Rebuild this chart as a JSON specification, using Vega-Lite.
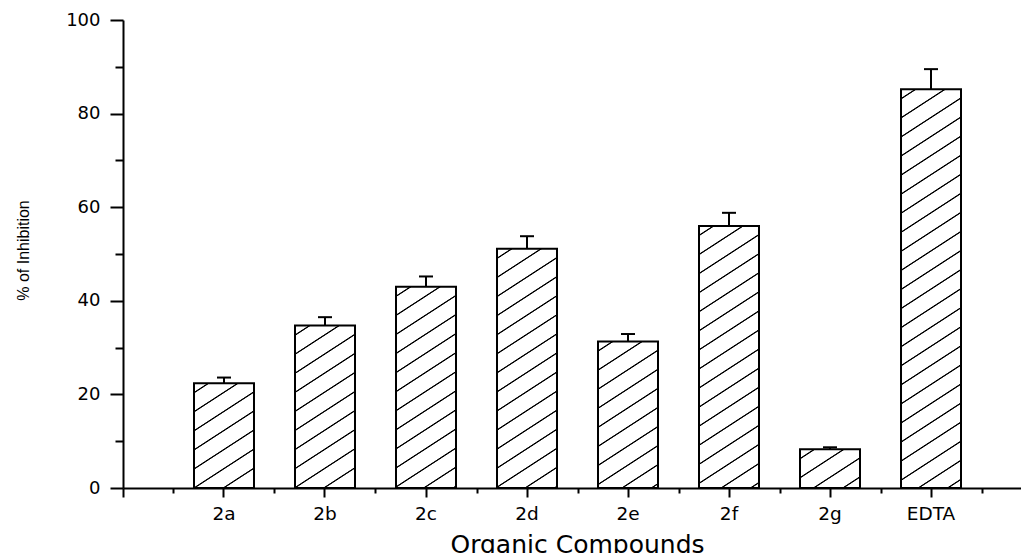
{
  "$schema": "https://vega.github.io/schema/vega-lite/v6.json",
  "width": 898,
  "height": 468,
  "autosize": {"type": "none"},
  "padding": {"left": 123, "top": 20, "right": 0, "bottom": 65},
  "background": "white",
  "config": {
    "view": {"stroke": null},
    "axis": {"grid": false, "domainColor": "#000", "domainWidth": 2, "tickColor": "#000", "tickWidth": 2, "labelColor": "#000", "labelFont": "DejaVu Sans", "labelFontSize": 18, "titleColor": "#000", "titleFontWeight": "normal"}
  },
  "data": {
    "values": [
      {"compound": "2a", "value": 22.4, "upper": 23.6},
      {"compound": "2b", "value": 34.7, "upper": 36.5},
      {"compound": "2c", "value": 43.0, "upper": 45.2},
      {"compound": "2d", "value": 51.1, "upper": 53.8},
      {"compound": "2e", "value": 31.3, "upper": 32.9},
      {"compound": "2f", "value": 56.0, "upper": 58.8},
      {"compound": "2g", "value": 8.3, "upper": 8.7},
      {"compound": "EDTA", "value": 85.2, "upper": 89.5}
    ]
  },
  "layer": [
    {
      "mark": {"type": "bar", "stroke": "#000", "strokeWidth": 2},
      "encoding": {
        "x": {"field": "compound", "type": "nominal", "sort": null,
          "scale": {"paddingInner": 0.406, "paddingOuter": 0.6485, "align": 0.542},
          "axis": {"orient": "bottom", "title": "Organic Compounds", "titleFont": "DejaVu Sans", "titleFontSize": 25, "titleX": 454, "titleY": 44, "titleBaseline": "top", "titleAlign": "center", "tickSize": 9, "labelPadding": 7, "labelAngle": 0, "labelFontSize": 18.5}},
        "y": {"field": "value", "type": "quantitative", "scale": {"domain": [0, 100], "nice": false},
          "axis": {"orient": "left", "values": [0, 20, 40, 60, 80, 100], "tickSize": 13, "labelPadding": 10, "title": "% of Inhibition", "titleFont": "Liberation Sans", "titleFontSize": 16, "titleX": -100, "titleY": 230, "titleAngle": -90, "titleBaseline": "middle", "titleAlign": "center"}},
        "fill": {
          "condition": [
            {"test": "datum.compound === '2a'", "value": {"gradient": "linear", "x1": 0, "y1": 0, "x2": 1.4856, "y2": 3.9956, "stops": [
              {"offset":0.0175,"color":"#fff"},{"offset":0.0192,"color":"#000"},{"offset":0.0208,"color":"#000"},{"offset":0.0225,"color":"#fff"},
              {"offset":0.0575,"color":"#fff"},{"offset":0.0592,"color":"#000"},{"offset":0.0608,"color":"#000"},{"offset":0.0625,"color":"#fff"},
              {"offset":0.0975,"color":"#fff"},{"offset":0.0992,"color":"#000"},{"offset":0.1008,"color":"#000"},{"offset":0.1025,"color":"#fff"},
              {"offset":0.1375,"color":"#fff"},{"offset":0.1392,"color":"#000"},{"offset":0.1408,"color":"#000"},{"offset":0.1425,"color":"#fff"},
              {"offset":0.1775,"color":"#fff"},{"offset":0.1792,"color":"#000"},{"offset":0.1808,"color":"#000"},{"offset":0.1825,"color":"#fff"},
              {"offset":0.2175,"color":"#fff"},{"offset":0.2192,"color":"#000"},{"offset":0.2208,"color":"#000"},{"offset":0.2225,"color":"#fff"},
              {"offset":0.2575,"color":"#fff"},{"offset":0.2592,"color":"#000"},{"offset":0.2608,"color":"#000"},{"offset":0.2625,"color":"#fff"},
              {"offset":0.2975,"color":"#fff"},{"offset":0.2992,"color":"#000"},{"offset":0.3008,"color":"#000"},{"offset":0.3025,"color":"#fff"}
            ]}},
            {"test": "datum.compound === '2b'", "value": {"gradient": "linear", "x1": 0, "y1": 0, "x2": 0.6662, "y2": 2.7758, "stops": [
              {"offset":0.0175,"color":"#fff"},{"offset":0.0192,"color":"#000"},{"offset":0.0208,"color":"#000"},{"offset":0.0225,"color":"#fff"},
              {"offset":0.0575,"color":"#fff"},{"offset":0.0592,"color":"#000"},{"offset":0.0608,"color":"#000"},{"offset":0.0625,"color":"#fff"},
              {"offset":0.0975,"color":"#fff"},{"offset":0.0992,"color":"#000"},{"offset":0.1008,"color":"#000"},{"offset":0.1025,"color":"#fff"},
              {"offset":0.1375,"color":"#fff"},{"offset":0.1392,"color":"#000"},{"offset":0.1408,"color":"#000"},{"offset":0.1425,"color":"#fff"},
              {"offset":0.1775,"color":"#fff"},{"offset":0.1792,"color":"#000"},{"offset":0.1808,"color":"#000"},{"offset":0.1825,"color":"#fff"},
              {"offset":0.2175,"color":"#fff"},{"offset":0.2192,"color":"#000"},{"offset":0.2208,"color":"#000"},{"offset":0.2225,"color":"#fff"},
              {"offset":0.2575,"color":"#fff"},{"offset":0.2592,"color":"#000"},{"offset":0.2608,"color":"#000"},{"offset":0.2625,"color":"#fff"},
              {"offset":0.2975,"color":"#fff"},{"offset":0.2992,"color":"#000"},{"offset":0.3008,"color":"#000"},{"offset":0.3025,"color":"#fff"},
              {"offset":0.3375,"color":"#fff"},{"offset":0.3392,"color":"#000"},{"offset":0.3408,"color":"#000"},{"offset":0.3425,"color":"#fff"},
              {"offset":0.3775,"color":"#fff"},{"offset":0.3792,"color":"#000"},{"offset":0.3808,"color":"#000"},{"offset":0.3825,"color":"#fff"},
              {"offset":0.4175,"color":"#fff"},{"offset":0.4192,"color":"#000"},{"offset":0.4208,"color":"#000"},{"offset":0.4225,"color":"#fff"}
            ]}},
            {"test": "datum.compound === '2c'", "value": {"gradient": "linear", "x1": 0, "y1": 0, "x2": 0.4423, "y2": 2.2835, "stops": [
              {"offset":0.0175,"color":"#fff"},{"offset":0.0192,"color":"#000"},{"offset":0.0208,"color":"#000"},{"offset":0.0225,"color":"#fff"},
              {"offset":0.0575,"color":"#fff"},{"offset":0.0592,"color":"#000"},{"offset":0.0608,"color":"#000"},{"offset":0.0625,"color":"#fff"},
              {"offset":0.0975,"color":"#fff"},{"offset":0.0992,"color":"#000"},{"offset":0.1008,"color":"#000"},{"offset":0.1025,"color":"#fff"},
              {"offset":0.1375,"color":"#fff"},{"offset":0.1392,"color":"#000"},{"offset":0.1408,"color":"#000"},{"offset":0.1425,"color":"#fff"},
              {"offset":0.1775,"color":"#fff"},{"offset":0.1792,"color":"#000"},{"offset":0.1808,"color":"#000"},{"offset":0.1825,"color":"#fff"},
              {"offset":0.2175,"color":"#fff"},{"offset":0.2192,"color":"#000"},{"offset":0.2208,"color":"#000"},{"offset":0.2225,"color":"#fff"},
              {"offset":0.2575,"color":"#fff"},{"offset":0.2592,"color":"#000"},{"offset":0.2608,"color":"#000"},{"offset":0.2625,"color":"#fff"},
              {"offset":0.2975,"color":"#fff"},{"offset":0.2992,"color":"#000"},{"offset":0.3008,"color":"#000"},{"offset":0.3025,"color":"#fff"},
              {"offset":0.3375,"color":"#fff"},{"offset":0.3392,"color":"#000"},{"offset":0.3408,"color":"#000"},{"offset":0.3425,"color":"#fff"},
              {"offset":0.3775,"color":"#fff"},{"offset":0.3792,"color":"#000"},{"offset":0.3808,"color":"#000"},{"offset":0.3825,"color":"#fff"},
              {"offset":0.4175,"color":"#fff"},{"offset":0.4192,"color":"#000"},{"offset":0.4208,"color":"#000"},{"offset":0.4225,"color":"#fff"},
              {"offset":0.4575,"color":"#fff"},{"offset":0.4592,"color":"#000"},{"offset":0.4608,"color":"#000"},{"offset":0.4625,"color":"#fff"},
              {"offset":0.4975,"color":"#fff"},{"offset":0.4992,"color":"#000"},{"offset":0.5008,"color":"#000"},{"offset":0.5025,"color":"#fff"}
            ]}},
            {"test": "datum.compound === '2d'", "value": {"gradient": "linear", "x1": 0, "y1": 0, "x2": 0.3165, "y2": 1.9420, "stops": [
              {"offset":0.0175,"color":"#fff"},{"offset":0.0192,"color":"#000"},{"offset":0.0208,"color":"#000"},{"offset":0.0225,"color":"#fff"},
              {"offset":0.0575,"color":"#fff"},{"offset":0.0592,"color":"#000"},{"offset":0.0608,"color":"#000"},{"offset":0.0625,"color":"#fff"},
              {"offset":0.0975,"color":"#fff"},{"offset":0.0992,"color":"#000"},{"offset":0.1008,"color":"#000"},{"offset":0.1025,"color":"#fff"},
              {"offset":0.1375,"color":"#fff"},{"offset":0.1392,"color":"#000"},{"offset":0.1408,"color":"#000"},{"offset":0.1425,"color":"#fff"},
              {"offset":0.1775,"color":"#fff"},{"offset":0.1792,"color":"#000"},{"offset":0.1808,"color":"#000"},{"offset":0.1825,"color":"#fff"},
              {"offset":0.2175,"color":"#fff"},{"offset":0.2192,"color":"#000"},{"offset":0.2208,"color":"#000"},{"offset":0.2225,"color":"#fff"},
              {"offset":0.2575,"color":"#fff"},{"offset":0.2592,"color":"#000"},{"offset":0.2608,"color":"#000"},{"offset":0.2625,"color":"#fff"},
              {"offset":0.2975,"color":"#fff"},{"offset":0.2992,"color":"#000"},{"offset":0.3008,"color":"#000"},{"offset":0.3025,"color":"#fff"},
              {"offset":0.3375,"color":"#fff"},{"offset":0.3392,"color":"#000"},{"offset":0.3408,"color":"#000"},{"offset":0.3425,"color":"#fff"},
              {"offset":0.3775,"color":"#fff"},{"offset":0.3792,"color":"#000"},{"offset":0.3808,"color":"#000"},{"offset":0.3825,"color":"#fff"},
              {"offset":0.4175,"color":"#fff"},{"offset":0.4192,"color":"#000"},{"offset":0.4208,"color":"#000"},{"offset":0.4225,"color":"#fff"},
              {"offset":0.4575,"color":"#fff"},{"offset":0.4592,"color":"#000"},{"offset":0.4608,"color":"#000"},{"offset":0.4625,"color":"#fff"},
              {"offset":0.4975,"color":"#fff"},{"offset":0.4992,"color":"#000"},{"offset":0.5008,"color":"#000"},{"offset":0.5025,"color":"#fff"},
              {"offset":0.5375,"color":"#fff"},{"offset":0.5392,"color":"#000"},{"offset":0.5408,"color":"#000"},{"offset":0.5425,"color":"#fff"},
              {"offset":0.5775,"color":"#fff"},{"offset":0.5792,"color":"#000"},{"offset":0.5808,"color":"#000"},{"offset":0.5825,"color":"#fff"}
            ]}},
            {"test": "datum.compound === '2e'", "value": {"gradient": "linear", "x1": 0, "y1": 0, "x2": 0.8088, "y2": 3.0396, "stops": [
              {"offset":0.0175,"color":"#fff"},{"offset":0.0192,"color":"#000"},{"offset":0.0208,"color":"#000"},{"offset":0.0225,"color":"#fff"},
              {"offset":0.0575,"color":"#fff"},{"offset":0.0592,"color":"#000"},{"offset":0.0608,"color":"#000"},{"offset":0.0625,"color":"#fff"},
              {"offset":0.0975,"color":"#fff"},{"offset":0.0992,"color":"#000"},{"offset":0.1008,"color":"#000"},{"offset":0.1025,"color":"#fff"},
              {"offset":0.1375,"color":"#fff"},{"offset":0.1392,"color":"#000"},{"offset":0.1408,"color":"#000"},{"offset":0.1425,"color":"#fff"},
              {"offset":0.1775,"color":"#fff"},{"offset":0.1792,"color":"#000"},{"offset":0.1808,"color":"#000"},{"offset":0.1825,"color":"#fff"},
              {"offset":0.2175,"color":"#fff"},{"offset":0.2192,"color":"#000"},{"offset":0.2208,"color":"#000"},{"offset":0.2225,"color":"#fff"},
              {"offset":0.2575,"color":"#fff"},{"offset":0.2592,"color":"#000"},{"offset":0.2608,"color":"#000"},{"offset":0.2625,"color":"#fff"},
              {"offset":0.2975,"color":"#fff"},{"offset":0.2992,"color":"#000"},{"offset":0.3008,"color":"#000"},{"offset":0.3025,"color":"#fff"},
              {"offset":0.3375,"color":"#fff"},{"offset":0.3392,"color":"#000"},{"offset":0.3408,"color":"#000"},{"offset":0.3425,"color":"#fff"},
              {"offset":0.3775,"color":"#fff"},{"offset":0.3792,"color":"#000"},{"offset":0.3808,"color":"#000"},{"offset":0.3825,"color":"#fff"}
            ]}},
            {"test": "datum.compound === '2f'", "value": {"gradient": "linear", "x1": 0, "y1": 0, "x2": 0.2647, "y2": 1.7798, "stops": [
              {"offset":0.0175,"color":"#fff"},{"offset":0.0192,"color":"#000"},{"offset":0.0208,"color":"#000"},{"offset":0.0225,"color":"#fff"},
              {"offset":0.0575,"color":"#fff"},{"offset":0.0592,"color":"#000"},{"offset":0.0608,"color":"#000"},{"offset":0.0625,"color":"#fff"},
              {"offset":0.0975,"color":"#fff"},{"offset":0.0992,"color":"#000"},{"offset":0.1008,"color":"#000"},{"offset":0.1025,"color":"#fff"},
              {"offset":0.1375,"color":"#fff"},{"offset":0.1392,"color":"#000"},{"offset":0.1408,"color":"#000"},{"offset":0.1425,"color":"#fff"},
              {"offset":0.1775,"color":"#fff"},{"offset":0.1792,"color":"#000"},{"offset":0.1808,"color":"#000"},{"offset":0.1825,"color":"#fff"},
              {"offset":0.2175,"color":"#fff"},{"offset":0.2192,"color":"#000"},{"offset":0.2208,"color":"#000"},{"offset":0.2225,"color":"#fff"},
              {"offset":0.2575,"color":"#fff"},{"offset":0.2592,"color":"#000"},{"offset":0.2608,"color":"#000"},{"offset":0.2625,"color":"#fff"},
              {"offset":0.2975,"color":"#fff"},{"offset":0.2992,"color":"#000"},{"offset":0.3008,"color":"#000"},{"offset":0.3025,"color":"#fff"},
              {"offset":0.3375,"color":"#fff"},{"offset":0.3392,"color":"#000"},{"offset":0.3408,"color":"#000"},{"offset":0.3425,"color":"#fff"},
              {"offset":0.3775,"color":"#fff"},{"offset":0.3792,"color":"#000"},{"offset":0.3808,"color":"#000"},{"offset":0.3825,"color":"#fff"},
              {"offset":0.4175,"color":"#fff"},{"offset":0.4192,"color":"#000"},{"offset":0.4208,"color":"#000"},{"offset":0.4225,"color":"#fff"},
              {"offset":0.4575,"color":"#fff"},{"offset":0.4592,"color":"#000"},{"offset":0.4608,"color":"#000"},{"offset":0.4625,"color":"#fff"},
              {"offset":0.4975,"color":"#fff"},{"offset":0.4992,"color":"#000"},{"offset":0.5008,"color":"#000"},{"offset":0.5025,"color":"#fff"},
              {"offset":0.5375,"color":"#fff"},{"offset":0.5392,"color":"#000"},{"offset":0.5408,"color":"#000"},{"offset":0.5425,"color":"#fff"},
              {"offset":0.5775,"color":"#fff"},{"offset":0.5792,"color":"#000"},{"offset":0.5808,"color":"#000"},{"offset":0.5825,"color":"#fff"},
              {"offset":0.6175,"color":"#fff"},{"offset":0.6192,"color":"#000"},{"offset":0.6208,"color":"#000"},{"offset":0.6225,"color":"#fff"}
            ]}},
            {"test": "datum.compound === '2g'", "value": {"gradient": "linear", "x1": 0, "y1": 0, "x2": 6.1374, "y2": 6.1164, "stops": [
              {"offset":0.0175,"color":"#fff"},{"offset":0.0192,"color":"#000"},{"offset":0.0208,"color":"#000"},{"offset":0.0225,"color":"#fff"},
              {"offset":0.0575,"color":"#fff"},{"offset":0.0592,"color":"#000"},{"offset":0.0608,"color":"#000"},{"offset":0.0625,"color":"#fff"},
              {"offset":0.0975,"color":"#fff"},{"offset":0.0992,"color":"#000"},{"offset":0.1008,"color":"#000"},{"offset":0.1025,"color":"#fff"},
              {"offset":0.1375,"color":"#fff"},{"offset":0.1392,"color":"#000"},{"offset":0.1408,"color":"#000"},{"offset":0.1425,"color":"#fff"}
            ]}},
            {"test": "datum.compound === 'EDTA'", "value": {"gradient": "linear", "x1": 0, "y1": 0, "x2": 0.1158, "y2": 1.1843, "stops": [
              {"offset":0.0175,"color":"#fff"},{"offset":0.0192,"color":"#000"},{"offset":0.0208,"color":"#000"},{"offset":0.0225,"color":"#fff"},
              {"offset":0.0575,"color":"#fff"},{"offset":0.0592,"color":"#000"},{"offset":0.0608,"color":"#000"},{"offset":0.0625,"color":"#fff"},
              {"offset":0.0975,"color":"#fff"},{"offset":0.0992,"color":"#000"},{"offset":0.1008,"color":"#000"},{"offset":0.1025,"color":"#fff"},
              {"offset":0.1375,"color":"#fff"},{"offset":0.1392,"color":"#000"},{"offset":0.1408,"color":"#000"},{"offset":0.1425,"color":"#fff"},
              {"offset":0.1775,"color":"#fff"},{"offset":0.1792,"color":"#000"},{"offset":0.1808,"color":"#000"},{"offset":0.1825,"color":"#fff"},
              {"offset":0.2175,"color":"#fff"},{"offset":0.2192,"color":"#000"},{"offset":0.2208,"color":"#000"},{"offset":0.2225,"color":"#fff"},
              {"offset":0.2575,"color":"#fff"},{"offset":0.2592,"color":"#000"},{"offset":0.2608,"color":"#000"},{"offset":0.2625,"color":"#fff"},
              {"offset":0.2975,"color":"#fff"},{"offset":0.2992,"color":"#000"},{"offset":0.3008,"color":"#000"},{"offset":0.3025,"color":"#fff"},
              {"offset":0.3375,"color":"#fff"},{"offset":0.3392,"color":"#000"},{"offset":0.3408,"color":"#000"},{"offset":0.3425,"color":"#fff"},
              {"offset":0.3775,"color":"#fff"},{"offset":0.3792,"color":"#000"},{"offset":0.3808,"color":"#000"},{"offset":0.3825,"color":"#fff"},
              {"offset":0.4175,"color":"#fff"},{"offset":0.4192,"color":"#000"},{"offset":0.4208,"color":"#000"},{"offset":0.4225,"color":"#fff"},
              {"offset":0.4575,"color":"#fff"},{"offset":0.4592,"color":"#000"},{"offset":0.4608,"color":"#000"},{"offset":0.4625,"color":"#fff"},
              {"offset":0.4975,"color":"#fff"},{"offset":0.4992,"color":"#000"},{"offset":0.5008,"color":"#000"},{"offset":0.5025,"color":"#fff"},
              {"offset":0.5375,"color":"#fff"},{"offset":0.5392,"color":"#000"},{"offset":0.5408,"color":"#000"},{"offset":0.5425,"color":"#fff"},
              {"offset":0.5775,"color":"#fff"},{"offset":0.5792,"color":"#000"},{"offset":0.5808,"color":"#000"},{"offset":0.5825,"color":"#fff"},
              {"offset":0.6175,"color":"#fff"},{"offset":0.6192,"color":"#000"},{"offset":0.6208,"color":"#000"},{"offset":0.6225,"color":"#fff"},
              {"offset":0.6575,"color":"#fff"},{"offset":0.6592,"color":"#000"},{"offset":0.6608,"color":"#000"},{"offset":0.6625,"color":"#fff"},
              {"offset":0.6975,"color":"#fff"},{"offset":0.6992,"color":"#000"},{"offset":0.7008,"color":"#000"},{"offset":0.7025,"color":"#fff"},
              {"offset":0.7375,"color":"#fff"},{"offset":0.7392,"color":"#000"},{"offset":0.7408,"color":"#000"},{"offset":0.7425,"color":"#fff"},
              {"offset":0.7775,"color":"#fff"},{"offset":0.7792,"color":"#000"},{"offset":0.7808,"color":"#000"},{"offset":0.7825,"color":"#fff"},
              {"offset":0.8175,"color":"#fff"},{"offset":0.8192,"color":"#000"},{"offset":0.8208,"color":"#000"},{"offset":0.8225,"color":"#fff"},
              {"offset":0.8575,"color":"#fff"},{"offset":0.8592,"color":"#000"},{"offset":0.8608,"color":"#000"},{"offset":0.8625,"color":"#fff"},
              {"offset":0.8975,"color":"#fff"},{"offset":0.8992,"color":"#000"},{"offset":0.9008,"color":"#000"},{"offset":0.9025,"color":"#fff"}
            ]}}
          ],
          "value": "#fff"
        }
      }
    },
    {
      "mark": {"type": "rule", "color": "#000", "strokeWidth": 2},
      "encoding": {
        "x": {"field": "compound", "type": "nominal", "sort": null,
          "axis": {"orient": "bottom", "tickOffset": 50.5, "tickSize": 5, "labels": false, "domain": false, "title": null}},
        "y": {"field": "value", "type": "quantitative",
          "axis": {"orient": "left", "values": [10, 30, 50, 70, 90], "tickSize": 8, "labels": false, "domain": false, "title": null}},
        "y2": {"field": "upper"}
      }
    },
    {
      "mark": {"type": "tick", "color": "#000", "size": 14, "thickness": 2, "opacity": 1},
      "encoding": {
        "x": {"field": "compound", "type": "nominal", "sort": null,
          "axis": {"orient": "bottom", "values": ["2a"], "tickOffset": -50.5, "tickSize": 5, "labels": false, "domain": false, "title": null}},
        "y": {"field": "upper", "type": "quantitative", "axis": null}
      }
    },
    {
      "mark": {"type": "rule", "color": "#000", "strokeWidth": 2},
      "encoding": {
        "x": {"field": "compound", "type": "nominal", "sort": null,
          "axis": {"orient": "bottom", "values": ["2a"], "tickOffset": -101, "tickSize": 9, "labels": false, "domain": false, "title": null}},
        "y": {"field": "value", "type": "quantitative", "axis": null},
        "y2": {"field": "upper"}
      }
    }
  ],
  "resolve": {"axis": {"x": "independent", "y": "independent"}}
}
